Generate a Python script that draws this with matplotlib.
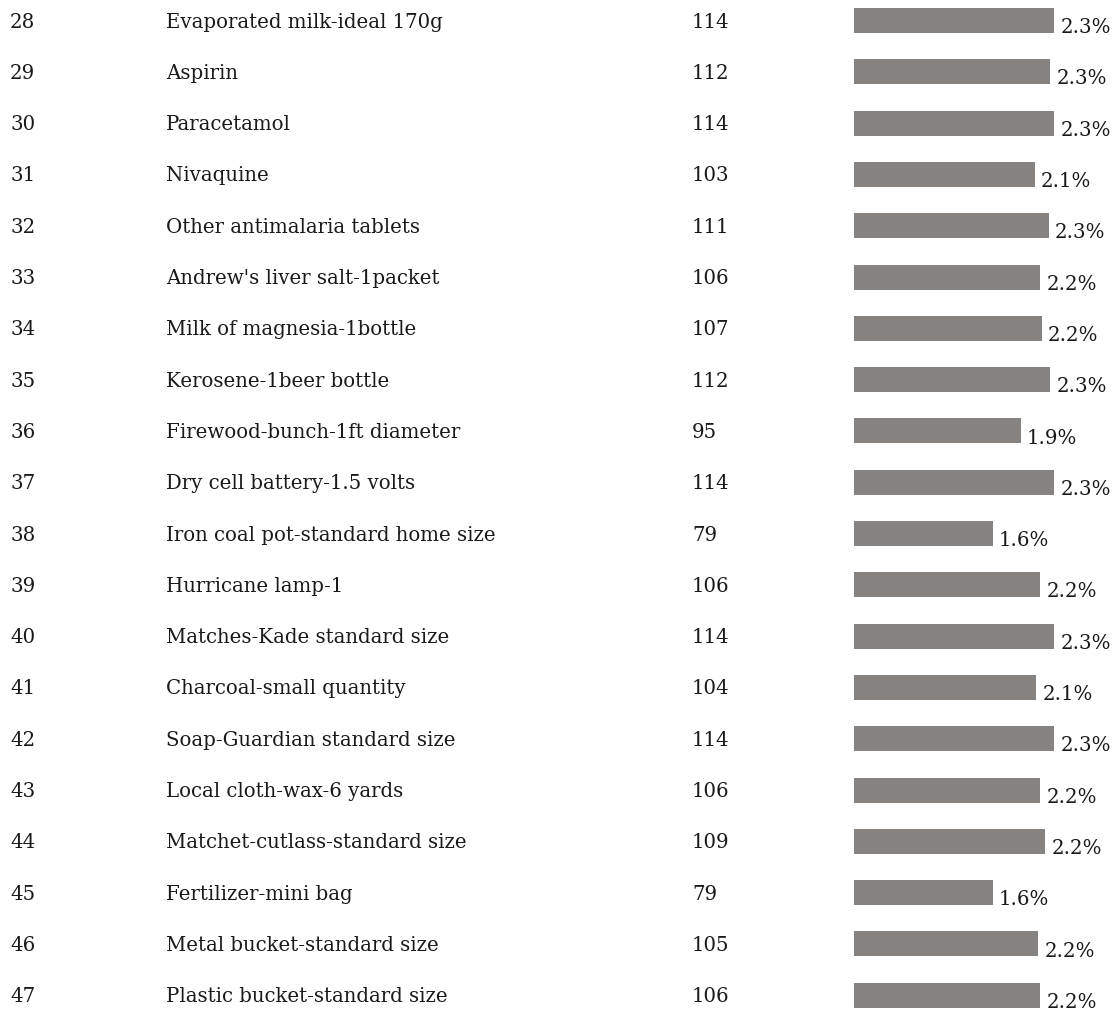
import matplotlib
matplotlib.use("Agg")
import matplotlib.pyplot as plt
import matplotlib.transforms as mtransforms

row_ids = list(range(28, 48))
items = [
    "Evaporated milk-ideal 170g",
    "Aspirin",
    "Paracetamol",
    "Nivaquine",
    "Other antimalaria tablets",
    "Andrew's liver salt-1packet",
    "Milk of magnesia-1bottle",
    "Kerosene-1beer bottle",
    "Firewood-bunch-1ft diameter",
    "Dry cell battery-1.5 volts",
    "Iron coal pot-standard home size",
    "Hurricane lamp-1",
    "Matches-Kade standard size",
    "Charcoal-small quantity",
    "Soap-Guardian standard size",
    "Local cloth-wax-6 yards",
    "Matchet-cutlass-standard size",
    "Fertilizer-mini bag",
    "Metal bucket-standard size",
    "Plastic bucket-standard size",
]
counts = [114, 112, 114, 103, 111, 106, 107, 112, 95, 114,
          79, 106, 114, 104, 114, 106, 109, 79, 105, 106]
pcts = [2.3, 2.3, 2.3, 2.1, 2.3, 2.2, 2.2, 2.3, 1.9, 2.3,
        1.6, 2.2, 2.3, 2.1, 2.3, 2.2, 2.2, 1.6, 2.2, 2.2]

W, H = 1114, 1010
fig = plt.figure(figsize=(W / 100, H / 100), dpi=100)
plt.rcParams['font.family'] = ['DejaVu Serif']

# bar column starts at x=854px, 114 -> ~200px
ax = fig.add_axes([854 / W, 0, 1 - 854 / W, 1])
ax.set_xlim(0, 260 / (200 / 114))
top_px, pitch = 20.5, 51.3
ax.set_ylim((H - top_px) / pitch, -top_px / pitch)
ax.axis('off')

ypos = list(range(len(items)))
ax.barh(ypos, counts, height=25 / pitch, color='#86827f')

trans = mtransforms.blended_transform_factory(fig.transFigure, ax.transData)
fs = 14.2
for i, (rid, name, c, p) in enumerate(zip(row_ids, items, counts, pcts)):
    ax.text(10 / W, i + 0.03, str(rid), transform=trans, fontsize=fs,
            va='center', ha='left', color='#1a1a1a')
    ax.text(166 / W, i + 0.03, name, transform=trans, fontsize=fs,
            va='center', ha='left', color='#1a1a1a')
    ax.text(692 / W, i + 0.03, str(c), transform=trans, fontsize=fs,
            va='center', ha='left', color='#1a1a1a')
    ax.annotate(f"{p}%", (c, i + 0.14), xytext=(4.5, 0), textcoords='offset points',
                fontsize=fs, va='center', ha='left', color='#1a1a1a')

fig.savefig("out.png", dpi=100)
